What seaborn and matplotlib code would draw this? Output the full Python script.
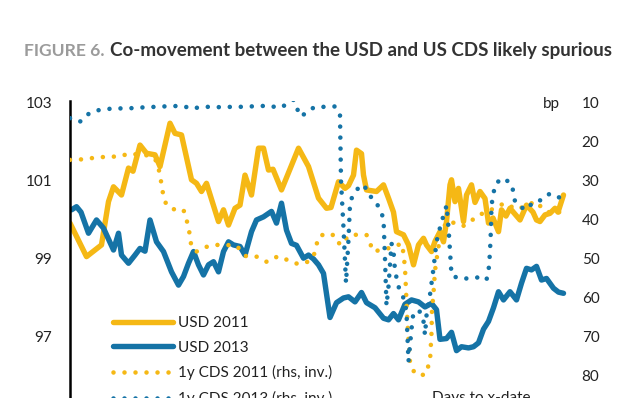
import matplotlib
matplotlib.use("Agg")
import matplotlib.pyplot as plt
import seaborn as sns

# ---------------------------------------------------------------------------
# Data (x = trading days in the window)
# ---------------------------------------------------------------------------

USD_2011_DAYS = [0, 3.3, 6.3, 7.7, 8.7, 10.3, 11.7, 12.6, 14, 15.3, 17, 18, 20, 21, 22.3,
                 24.3, 25.3, 26.3, 27.3, 29.7, 30.7, 31.7, 33, 34, 35, 36.3, 37.7, 38.7,
                 39.7, 40.6, 42.3, 45.7, 47.7, 49.7, 51.3, 52.2, 53.7, 55, 55.7, 56.7, 57.3,
                 58.3, 58.7, 59.3, 61.3, 62.7, 63.7, 64.7, 65.3, 66.7, 67.7, 68.7, 69.7,
                 70.7, 71.3, 72.3, 73, 74, 74.7, 75.3, 76, 76.3, 77, 77.7, 78.7, 79.3, 80.3,
                 81, 82, 83, 83.7, 84.6, 85.7, 86.3, 87.2, 88, 89, 90, 91.3, 92.6, 93.3, 94,
                 95, 96, 97, 97.6, 98.7]
USD_2011 = [99.92, 99.06, 99.36, 100.47, 100.85, 100.64, 101.33, 101.25, 101.92, 101.71,
            101.67, 101.37, 102.48, 102.22, 102.18, 101.03, 100.94, 100.73, 100.94, 99.96,
            100.26, 99.87, 100.30, 100.38, 101.15, 100.64, 101.84, 101.84, 101.28, 101.30,
            100.77, 101.84, 101.37, 100.56, 100.30, 100.32, 100.98, 100.81, 100.88, 101.15,
            101.79, 101.70, 101.15, 100.77, 100.73, 100.90, 100.56, 100.20, 99.70, 99.62,
            99.36, 98.85, 99.36, 99.53, 99.36, 99.19, 99.45, 99.70, 99.44, 99.96, 100.90,
            101.03, 100.47, 100.81, 99.96, 100.64, 100.90, 100.45, 100.73, 100.55, 99.92,
            100.05, 99.70, 100.26, 100.10, 100.30, 100.15, 100.00, 100.38, 100.20, 100.00,
            99.96, 100.13, 100.17, 100.30, 100.20, 100.64]

USD_2013_DAYS = [0.3, 1.3, 2.2, 3.7, 5.3, 6.7, 8.7, 9.7, 10.3, 11.7, 13, 14, 15, 16, 17.3,
                 18.7, 20.3, 21.7, 22.7, 23.7, 24.7, 25.7, 26.7, 27.7, 28.7, 29.7, 30.7,
                 31.7, 32.7, 34, 35, 36.3, 37.3, 38.7, 40.3, 41.3, 42.3, 43.3, 44.3, 45.3,
                 46.7, 47.7, 48.7, 49.7, 50.7, 52, 53.3, 54.7, 55.7, 57, 58.3, 59.3, 61,
                 62.7, 63.7, 64.7, 65.7, 67, 68.3, 69.7, 71, 72.3, 73.3, 74, 75.3, 76.3,
                 77.3, 78.3, 79.7, 80.7, 81.7, 82.7, 83.7, 84.7, 85.7, 86.7, 88, 89.3, 90.3,
                 91.3, 92.3, 93.3, 94.3, 95.3, 96.7, 97.7, 98.7]
USD_2013 = [100.26, 100.34, 100.20, 99.66, 100.00, 99.79, 99.23, 99.66, 99.10, 98.89,
            99.10, 99.27, 99.20, 100.00, 99.44, 99.19, 98.67, 98.33, 98.55, 98.89, 99.19,
            98.85, 98.59, 98.85, 98.93, 98.67, 99.19, 99.44, 99.36, 99.32, 99.10, 99.70,
            100.00, 100.08, 100.22, 99.92, 100.43, 99.74, 99.40, 99.35, 99.02, 99.10,
            99.00, 98.85, 98.63, 97.50, 97.88, 98.00, 98.03, 97.90, 98.14, 97.88, 97.75,
            97.48, 97.44, 97.60, 97.44, 97.84, 97.95, 97.90, 97.77, 97.86, 97.70, 96.94,
            96.96, 97.12, 96.65, 96.75, 96.72, 96.75, 96.85, 97.20, 97.40, 97.75, 98.16,
            97.95, 98.16, 97.95, 98.38, 98.76, 98.72, 98.81, 98.46, 98.50, 98.25, 98.15,
            98.12]

CDS_2011_DAYS = [0, 2, 4, 6, 8, 10, 11.7, 16, 17.4, 18, 18.7, 19.3, 21, 22.7, 23.7, 24.3,
                 25.3, 27, 28.7, 31, 33.3, 35.3, 37.3, 39.3, 40.7, 42.3, 44, 45.7, 47.3,
                 48.7, 49.3, 49.7, 51.3, 53, 54, 56, 57.7, 59.3, 60, 60.7, 62.7, 64.7, 66.3,
                 66.7, 67, 67.2, 67.4, 67.7, 68, 68.6, 69.3, 71, 72, 72.3, 72.4, 72.7, 73,
                 73.3, 73.7, 74.3, 74.7, 75.3, 76, 77, 78.7, 80, 81.7, 83.4, 85.3, 87, 89.3,
                 91.7, 93, 95.3, 97.7, 98.7]
CDS_2011 = [24.6, 24.5, 24.2, 23.9, 23.8, 23.7, 23.0, 23.5, 25.0, 28.5, 34.0, 36.2, 37.4,
            37.4, 41.7, 47.0, 48.1, 47.0, 46.4, 46.4, 46.6, 49.4, 49.4, 50.7, 49.6, 49.4,
            50.7, 51.3, 50.9, 49.4, 46.4, 44.3, 43.4, 44.0, 46.4, 43.8, 43.8, 43.8, 46.0,
            48.1, 47.5, 47.0, 46.0, 48.5, 52.4, 58.0, 64.0, 70.8, 76.3, 78.5, 79.7, 79.7,
            76.3, 69.0, 63.0, 58.8, 53.0, 50.3, 46.8, 44.7, 42.1, 40.5, 40.9, 40.6, 41.5,
            40.5, 38.7, 38.0, 36.6, 35.7, 37.3, 36.2, 35.2, 37.9, 38.3, 36.0]

CDS_2013_DAYS = [0, 2, 3.3, 5, 7, 9, 11, 13, 15, 17, 18.7, 20.6, 22.7, 24.3, 26.3, 28.3,
                 30.3, 32.3, 34, 36, 38, 40, 41.7, 43, 44.7, 45.6, 46.3, 47.3, 49, 51, 53,
                 54, 54.2, 54.7, 55.2, 55.7, 56, 56.3, 57, 58, 59, 59.7, 61, 62, 62.7, 63,
                 63.3, 63.7, 64.3, 64.7, 65, 65.7, 67, 67.3, 67.7, 68.3, 68.7, 70, 70.7, 71,
                 71.3, 72, 72.7, 73.3, 74.3, 75, 75.3, 75.7, 76, 76.3, 77.7, 79.4, 81.3,
                 83.3, 83.8, 84, 84.2, 84.3, 85, 86.3, 88, 88.7, 89, 90, 91.3, 92.7, 94.3,
                 95.7, 97.3, 98.7]
CDS_2013 = [13.9, 14.8, 13.1, 12.0, 11.6, 11.4, 11.4, 11.3, 11.1, 11.0, 10.9, 10.8, 10.8,
            11.5, 11.0, 11.0, 11.1, 11.0, 11.0, 10.9, 10.8, 10.7, 11.3, 10.6, 9.2, 12.0,
            13.5, 12.3, 11.0, 11.0, 10.9, 13.1, 30.0, 42.0, 56.2, 45.0, 36.0, 34.5, 33.2,
            31.0, 31.5, 33.6, 34.9, 37.4, 39.6, 50.0, 62.0, 57.0, 46.0, 48.0, 53.0, 57.1,
            60.9, 64.0, 76.3, 68.0, 63.5, 63.5, 66.0, 69.5, 64.5, 59.2, 52.4, 45.6, 40.4,
            37.9, 36.2, 42.0, 48.0, 54.1, 55.0, 55.0, 54.7, 55.4, 52.0, 48.1, 42.0, 36.2,
            31.0, 29.3, 30.3, 32.7, 35.3, 36.6, 37.4, 35.3, 34.9, 33.4, 33.6, 35.3]

LEFT_TICKS = [95, 97, 99, 101, 103]
RIGHT_TICKS = [10, 20, 30, 40, 50, 60, 70, 80, 90]

YELLOW = "#F5B815"
BLUE = "#1573A6"
DOTS = (0, (0.001, 2.4))

# ---------------------------------------------------------------------------
# Figure
# ---------------------------------------------------------------------------

sns.set_style("white")
plt.rcParams["font.family"] = ["Lato", "DejaVu Sans"]

W, H = 640, 398
fig = plt.figure(figsize=(W / 100, H / 100), dpi=100)

# axes run off the bottom edge (the reference is a crop)
ax = fig.add_axes([70 / W, 1 - 415 / H, 502 / W, 314 / H])
ax2 = ax.twinx()

sns.lineplot(x=USD_2011_DAYS, y=USD_2011, ax=ax, color=YELLOW, linewidth=3.9,
             estimator=None, sort=False, label="USD 2011", legend=False)
sns.lineplot(x=USD_2013_DAYS, y=USD_2013, ax=ax, color=BLUE, linewidth=3.9,
             estimator=None, sort=False, label="USD 2013", legend=False)
sns.lineplot(x=CDS_2011_DAYS, y=CDS_2011, ax=ax2, color=YELLOW, linewidth=3.3,
             linestyle=DOTS, dash_capstyle="round", estimator=None, sort=False,
             label="1y CDS 2011 (rhs, inv.)", legend=False)
sns.lineplot(x=CDS_2013_DAYS, y=CDS_2013, ax=ax2, color=BLUE, linewidth=3.3,
             linestyle=DOTS, dash_capstyle="round", estimator=None, sort=False,
             label="1y CDS 2013 (rhs, inv.)", legend=False)

ax.set_xlim(0, 100.4)
ax.set_ylim(95, 103.05)
ax2.set_ylim(90, 9.5)  # inverted right-hand scale
ax.set_yticks(LEFT_TICKS)
ax2.set_yticks(RIGHT_TICKS)
ax.set_xticks([])
ax.set_xlabel("")
ax.set_ylabel("")
ax2.set_ylabel("")

for a in (ax, ax2):
    for s in ("top", "right", "bottom"):
        a.spines[s].set_visible(False)
ax2.spines["left"].set_visible(False)
ax.spines["left"].set_linewidth(1.8)
ax.spines["left"].set_color("black")

ax.tick_params(axis="y", length=0, pad=13, labelsize=11, labelcolor="#222222")
ax2.tick_params(axis="y", length=0, pad=7, labelsize=11, labelcolor="#222222")

handles = ax.get_lines() + ax2.get_lines()
labels = [h.get_label() for h in handles]
fig.legend(handles, labels, loc="upper left", bbox_to_anchor=(113 / W, 1 - 316 / H),
           bbox_transform=fig.transFigure, frameon=False, fontsize=11,
           handlelength=3.9, handletextpad=0.35, labelspacing=0.7,
           borderpad=0, borderaxespad=0, labelcolor="#222222")

fig.text(560 / W, 1 - 104 / H, "bp", ha="right", va="center", fontsize=11, color="#222222")
fig.text(432 / W, 1 - 391 / H, "Days to x-date", ha="left", va="top", fontsize=11,
         color="#222222")

# title in two colours
fig.text(24 / W, 1 - 56 / H, "FIGURE 6.", ha="left", va="baseline", fontsize=12.6,
         fontweight="bold", color="#9B9B9B")
fig.text(110 / W, 1 - 56 / H, "Co-movement between the USD and US CDS likely spurious",
         ha="left", va="baseline", fontsize=13.5, fontweight="bold", color="#333333")

fig.savefig("out.png", dpi=100)
